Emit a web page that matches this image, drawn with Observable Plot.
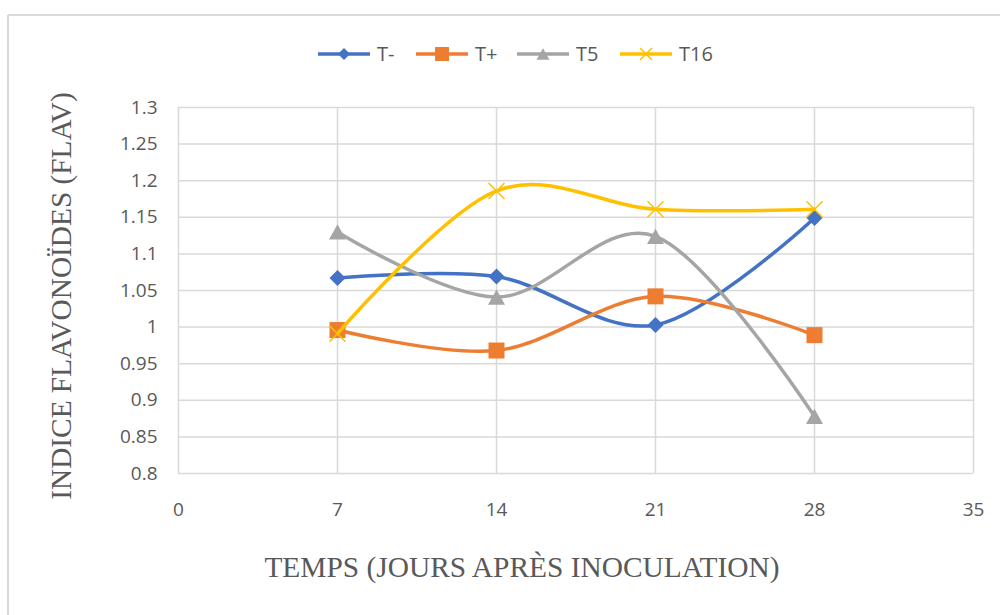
<!DOCTYPE html>
<html>
<head>
<meta charset="utf-8">
<script src="https://cdn.jsdelivr.net/npm/d3@7"></script>
<script src="https://cdn.jsdelivr.net/npm/@observablehq/plot@0.6"></script>
<style>
  html, body { margin: 0; padding: 0; background: #fff; }
  #chart { position: relative; width: 1000px; height: 615px; overflow: hidden; }
</style>
</head>
<body>
<div id="chart"></div>
<script>
// ---- data ----
const days = [7, 14, 21, 28];
const seriesNames = ["T-", "T+", "T5", "T16"];
const tMinus = [1.067, 1.069, 1.003, 1.149];
const tPlus  = [0.996, 0.968, 1.042, 0.989];
const t5     = [1.130, 1.041, 1.124, 0.878];
const t16    = [0.991, 1.186, 1.161, 1.161];
const xTicks = [0, 7, 14, 21, 28, 35];
const yTicks = [0.8, 0.85, 0.9, 0.95, 1, 1.05, 1.1, 1.15, 1.2, 1.25, 1.3];
const xTitle = "TEMPS (JOURS APRÈS INOCULATION)";
const yTitle = "INDICE FLAVONOÏDES (FLAV)";

const colors = ["#4472C4", "#ED7D31", "#A5A5A5", "#FFC000"];
const valuesList = [tMinus, tPlus, t5, t16];

// custom symbols: r (plot) == half extent
const half = size => Math.sqrt(size / Math.PI);
const diamondSym = {draw(ctx, size) { const r = half(size); ctx.moveTo(0, -r); ctx.lineTo(r, 0); ctx.lineTo(0, r); ctx.lineTo(-r, 0); ctx.closePath(); }};
const squareSym = {draw(ctx, size) { const r = half(size); ctx.rect(-r, -r, 2 * r, 2 * r); }};
const triangleSym = {draw(ctx, size) { const r = half(size); const h = r * 0.9; ctx.moveTo(0, -h); ctx.lineTo(r, h); ctx.lineTo(-r, h); ctx.closePath(); }};
const timesSym = {draw(ctx, size) { const r = half(size); ctx.moveTo(-r, -r); ctx.lineTo(r, r); ctx.moveTo(r, -r); ctx.lineTo(-r, r); }};
const symbols = [diamondSym, squareSym, triangleSym, timesSym];
const markerR = [8, 8, 8.5, 8];

const rows = seriesNames.map((name, i) => days.map((d, j) => ({series: name, day: d, value: valuesList[i][j]})));

const marks = [
  Plot.gridX(xTicks, {stroke: "#d9d9d9", strokeOpacity: 1, strokeWidth: 1.5}),
  Plot.gridY(yTicks, {stroke: "#d9d9d9", strokeOpacity: 1, strokeWidth: 1.5}),
  Plot.axisX(xTicks, {tickSize: 0, tickPadding: 29, tickFormat: d => String(d), fill: "#595959", label: null}),
  Plot.axisY(yTicks, {tickSize: 0, tickPadding: 21, tickFormat: d => String(+d.toFixed(2)), fill: "#595959", label: null})
];
rows.forEach((data, i) => {
  marks.push(Plot.line(data, {x: "day", y: "value", stroke: colors[i], strokeWidth: 3.5, curve: "cardinal"}));
  if (i === 3) {
    marks.push(Plot.dot(data, {x: "day", y: "value", symbol: symbols[i], r: markerR[i], stroke: colors[i], strokeWidth: 1.5, fill: "none"}));
  } else {
    marks.push(Plot.dot(data, {x: "day", y: "value", symbol: symbols[i], r: markerR[i], fill: colors[i], stroke: "none"}));
  }
});

const svg = Plot.plot({
  width: 1000,
  height: 615,
  marginTop: 107,
  marginBottom: 142,
  marginLeft: 178,
  marginRight: 27,
  style: {fontFamily: "'Open Sans', sans-serif", fontSize: "19px", color: "#595959", background: "#fff"},
  x: {domain: [0, 35], axis: null, label: null},
  y: {domain: [0.8, 1.3], axis: null, label: null},
  marks
});

const s = d3.select(svg);
// outer chart border
s.append("line").attr("x1", 8).attr("y1", 15).attr("x2", 1000).attr("y2", 15).attr("stroke", "#d9d9d9").attr("stroke-width", 2);
s.append("line").attr("x1", 8).attr("y1", 15).attr("x2", 8).attr("y2", 615).attr("stroke", "#d9d9d9").attr("stroke-width", 2);

// axis titles
s.append("text").text(xTitle)
  .attr("x", 522).attr("y", 577)
  .attr("text-anchor", "middle")
  .attr("font-family", "'Liberation Serif', 'Times New Roman', serif")
  .attr("font-size", 29.4).attr("fill", "#595959");
s.append("text").text(yTitle)
  .attr("transform", "translate(71,296) rotate(-90)")
  .attr("text-anchor", "middle")
  .attr("font-family", "'Liberation Serif', 'Times New Roman', serif")
  .attr("font-size", 29.3).attr("fill", "#595959");

// legend
const legX = [318, 416, 517, 620];
const legR = [6, 7, 6.5, 6];
const legY = 54;
seriesNames.forEach((name, i) => {
  const g = s.append("g").attr("transform", `translate(${legX[i]},0)`);
  g.append("line").attr("x1", 0).attr("x2", 52).attr("y1", legY).attr("y2", legY)
    .attr("stroke", colors[i]).attr("stroke-width", 3.5);
  const path = d3.path();
  symbols[i].draw(path, Math.PI * legR[i] * legR[i]);
  const p = g.append("path").attr("d", path.toString()).attr("transform", `translate(26,${legY})`);
  if (i === 3) p.attr("fill", "none").attr("stroke", colors[i]).attr("stroke-width", 1.5);
  else p.attr("fill", colors[i]);
  g.append("text").text(name).attr("x", 59).attr("y", legY).attr("dy", "0.36em")
    .attr("text-anchor", "start")
    .attr("font-family", "'Open Sans', sans-serif").attr("font-size", 20).attr("fill", "#595959");
});

document.getElementById("chart").appendChild(svg);
</script>
</body>
</html>
